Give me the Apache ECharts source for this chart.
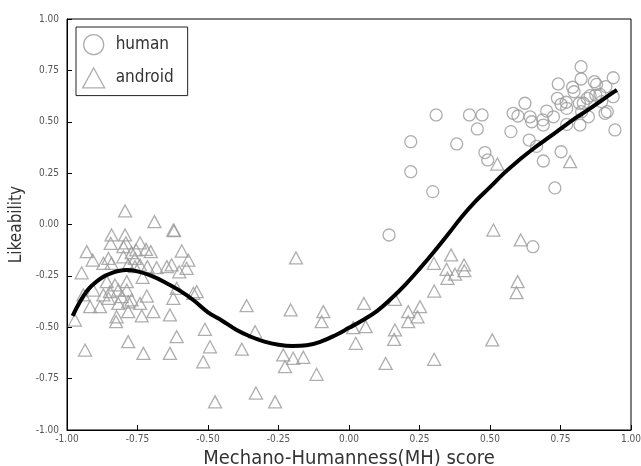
<!DOCTYPE html>
<html>
<head>
<meta charset="utf-8">
<script src="https://cdn.jsdelivr.net/npm/echarts@6/dist/echarts.min.js"></script>
<style>
  html, body { margin: 0; padding: 0; background: #fff; }
  #chart { width: 641px; height: 466px; }
</style>
</head>
<body>
<div id="chart"></div>
<script>
// Likeability ratings against Mechano-Humanness score, with a smooth trend curve.
const humanX = [0.142, 0.219, 0.219, 0.297, 0.309, 0.382, 0.427, 0.472, 0.455, 0.482, 0.492,
  0.574, 0.582, 0.599, 0.624, 0.642, 0.648, 0.687, 0.689, 0.701, 0.725, 0.639, 0.665, 0.689,
  0.752, 0.730, 0.652, 0.742, 0.823, 0.823, 0.793, 0.798, 0.870, 0.878, 0.937, 0.911, 0.937,
  0.855, 0.875, 0.890, 0.896, 0.908, 0.916, 0.739, 0.752, 0.770, 0.772, 0.817, 0.831, 0.845,
  0.825, 0.849, 0.819, 0.772, 0.943];
const humanY = [-0.051, 0.403, 0.257, 0.160, 0.533, 0.392, 0.533, 0.533, 0.465, 0.350, 0.314,
  0.452, 0.541, 0.528, 0.590, 0.524, 0.500, 0.509, 0.484, 0.552, 0.524, 0.411, 0.380, 0.309,
  0.354, 0.178, -0.108, 0.684, 0.768, 0.708, 0.668, 0.646, 0.695, 0.682, 0.714, 0.671, 0.622,
  0.627, 0.630, 0.633, 0.598, 0.541, 0.549, 0.614, 0.585, 0.595, 0.565, 0.590, 0.590, 0.614,
  0.549, 0.524, 0.484, 0.487, 0.460];

const androidX = [-0.794, -0.690, -0.623, -0.620, -0.842, -0.794, -0.845, -0.791, -0.741, -0.930,
  -0.909, -0.800, -0.755, -0.720, -0.703, -0.771, -0.800, -0.759, -0.853, -0.871, -0.842, -0.593,
  -0.570, -0.576, -0.783, -0.759, -0.741, -0.715, -0.682, -0.646, -0.629, -0.602, -0.948, -0.732,
  -0.788, -0.942, -0.907, -0.871, -0.848, -0.830, -0.818, -0.788, -0.717, -0.611, -0.623, -0.552,
  -0.540, -0.918, -0.883, -0.853, -0.818, -0.783, -0.741, -0.824, -0.826, -0.783, -0.735, -0.694,
  -0.635, -0.972, -0.511, -0.611, -0.493, -0.936, -0.783, -0.729, -0.635, -0.517, -0.806, -0.771,
  -0.859, -0.188, -0.363, -0.333, -0.380, -0.330, -0.475, -0.262, -0.207, -0.091, -0.097, -0.233,
  -0.198, -0.162, -0.227, -0.115, 0.015, 0.024, 0.512, 0.301, 0.362, 0.346, 0.376, 0.408, 0.409,
  0.349, 0.302, 0.053, 0.163, 0.210, 0.252, 0.243, 0.210, 0.059, 0.163, 0.160, 0.130, 0.302,
  0.508, 0.526, 0.784, 0.609, 0.598, 0.594];
const androidY = [0.066, 0.014, -0.027, -0.030, -0.051, -0.051, -0.092, -0.089, -0.089, -0.132,
  -0.173, -0.108, -0.124, -0.121, -0.132, -0.137, -0.157, -0.165, -0.165, -0.189, -0.189, -0.129,
  -0.173, -0.213, -0.197, -0.205, -0.197, -0.205, -0.210, -0.205, -0.197, -0.230, -0.235, -0.257,
  -0.278, -0.343, -0.319, -0.343, -0.327, -0.294, -0.319, -0.319, -0.348, -0.311, -0.359, -0.335,
  -0.327, -0.400, -0.400, -0.359, -0.384, -0.376, -0.384, -0.449, -0.473, -0.424, -0.445, -0.424,
  -0.440, -0.465, -0.510, -0.546, -0.595, -0.611, -0.570, -0.627, -0.627, -0.668, -0.351, -0.367,
  -0.278, -0.163, -0.395, -0.522, -0.607, -0.820, -0.863, -0.863, -0.416, -0.424, -0.473, -0.635,
  -0.651, -0.646, -0.692, -0.729, -0.502, -0.578, -0.027, -0.189, -0.148, -0.218, -0.242, -0.197,
  -0.225, -0.262, -0.324, -0.384, -0.364, -0.424, -0.400, -0.449, -0.473, -0.497, -0.513, -0.559,
  -0.676, -0.656, -0.562, 0.294, 0.306, -0.075, -0.278, -0.332];

// Smoothed trend through both groups
const fitX = [-0.98, -0.93, -0.88, -0.84, -0.79, -0.75, -0.70, -0.65, -0.60, -0.55, -0.50, -0.45,
  -0.40, -0.35, -0.30, -0.25, -0.20, -0.15, -0.10, -0.05, 0.00, 0.05, 0.10, 0.15, 0.20, 0.25,
  0.30, 0.35, 0.40, 0.45, 0.50, 0.55, 0.60, 0.65, 0.70, 0.75, 0.80, 0.85, 0.90, 0.95];
const fitY = [-0.445, -0.325, -0.262, -0.235, -0.222, -0.228, -0.250, -0.283, -0.322, -0.370,
  -0.428, -0.468, -0.512, -0.545, -0.570, -0.585, -0.591, -0.588, -0.570, -0.540, -0.503, -0.465,
  -0.420, -0.360, -0.292, -0.216, -0.135, -0.050, 0.038, 0.115, 0.182, 0.250, 0.310, 0.365,
  0.415, 0.465, 0.515, 0.560, 0.608, 0.655];

const xTicks = [-1, -0.75, -0.5, -0.25, 0, 0.25, 0.5, 0.75, 1];
const yTicks = [-1, -0.75, -0.5, -0.25, 0, 0.25, 0.5, 0.75, 1];

const zip = (xs, ys) => xs.map((x, i) => [x, ys[i]]);

const markerGray = '#9a9a9a';
const narrow = "'Liberation Sans Narrow', 'DejaVu Sans Condensed', sans-serif";
const hollow = { color: 'transparent', borderColor: markerGray, borderWidth: 1.3 };

const chart = echarts.init(document.getElementById('chart'), null, { renderer: 'canvas' });
chart.setOption({
  animation: false,
  backgroundColor: '#fff',
  grid: {
    left: 67, right: 10, top: 19, bottom: 36,
    outerBoundsMode: 'none', containLabel: false,
    show: true, borderColor: '#000', borderWidth: 1
  },
  legend: {
    left: 76, top: 27, orient: 'vertical',
    borderColor: '#222', borderWidth: 1, borderRadius: 0,
    padding: [7, 14, 7, 6], itemGap: 12, itemWidth: 22, itemHeight: 20,
    textStyle: { fontFamily: narrow, fontSize: 17, color: '#333', padding: [0, 0, 0, 6] },
    data: [
      { name: 'human', icon: 'circle', itemStyle: hollow },
      { name: 'android', icon: 'triangle', itemStyle: hollow }
    ]
  },
  xAxis: {
    type: 'value', min: -1, max: 1, interval: 0.25,
    name: 'Mechano-Humanness(MH) score', nameLocation: 'middle', nameGap: 16,
    nameTextStyle: { fontFamily: narrow, fontSize: 20, color: '#333' },
    axisLine: { onZero: false, lineStyle: { color: '#000', width: 1 } },
    axisTick: { inside: true, length: 5, lineStyle: { color: '#000' } },
    axisLabel: { fontFamily: narrow, fontSize: 10, color: '#555', margin: 4,
      formatter: v => xTicks.includes(v) ? v.toFixed(2) : '' },
    splitLine: { show: false }
  },
  yAxis: {
    type: 'value', min: -1, max: 1, interval: 0.25,
    name: 'Likeability', nameLocation: 'middle', nameGap: 40,
    nameTextStyle: { fontFamily: narrow, fontSize: 17, color: '#333' },
    axisLine: { onZero: false, lineStyle: { color: '#000', width: 1 } },
    axisTick: { inside: true, length: 5, lineStyle: { color: '#000' } },
    axisLabel: { fontFamily: narrow, fontSize: 10, color: '#555', margin: 8,
      formatter: v => yTicks.includes(v) ? v.toFixed(2) : '' },
    splitLine: { show: false }
  },
  series: [
    {
      name: 'human', type: 'scatter', symbol: 'circle', symbolSize: 12,
      itemStyle: hollow, data: zip(humanX, humanY), z: 2
    },
    {
      name: 'android', type: 'scatter', symbol: 'triangle', symbolSize: [13, 12],
      itemStyle: hollow, data: zip(androidX, androidY), z: 2
    },
    {
      name: 'fit', type: 'line', smooth: 0.4, showSymbol: false, symbol: 'none',
      lineStyle: { color: '#000', width: 4 }, data: zip(fitX, fitY), z: 3
    }
  ]
});
</script>
</body>
</html>
